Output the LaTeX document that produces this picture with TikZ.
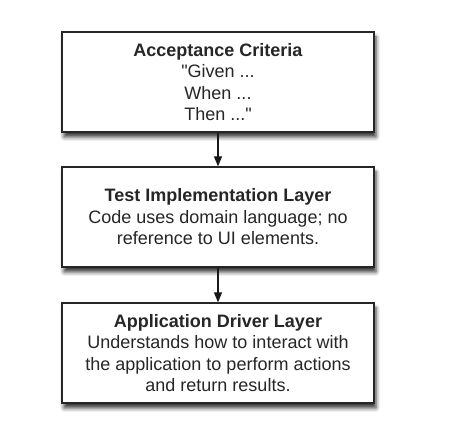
\documentclass[tikz,border=0pt]{standalone}
\usepackage{fontspec}
\setmainfont{Liberation Sans}
\usetikzlibrary{arrows.meta,shadows.blur}
\begin{document}
\begin{tikzpicture}[x=1pt,y=1pt,
  layerbox/.style={draw=black!85, line width=1.2pt, fill=white, minimum width=312pt, minimum height=100pt,
    align=center, font=\fontsize{18}{21.5}\selectfont, text=black!85,
    blur shadow={shadow xshift=2pt, shadow yshift=-5pt, shadow blur radius=4pt, shadow opacity=80}},
  flow/.style={line width=1.2pt, draw=black!90, -{Triangle[length=10pt,width=8pt]}}]
\useasboundingbox (0,0) rectangle (460,436);
\node[layerbox] (ac) at (218,354) {\textbf{Acceptance Criteria}\\\textquotedbl Given ...\\When ...\\Then ...\textquotedbl};
\node[layerbox] (ti) at (218,219) {\textbf{Test Implementation Layer}\\Code uses domain language; no\\reference to UI elements.};
\node[layerbox] (ad) at (218,83) {\textbf{Application Driver Layer}\\Understands how to interact with\\the application to perform actions\\and return results.};
\draw[flow] (ac) -- (ti);
\draw[flow] (ti) -- (ad);
\end{tikzpicture}
\end{document}
